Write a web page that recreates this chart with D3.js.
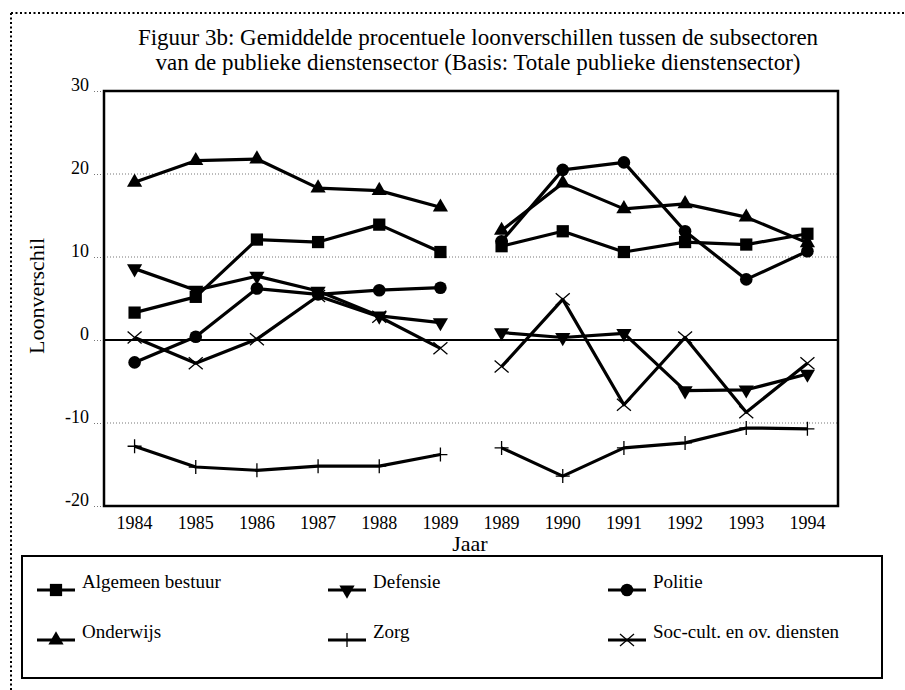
<!DOCTYPE html>
<html><head><meta charset="utf-8">
<script src="https://cdn.jsdelivr.net/npm/d3@7"></script>
<style>
body{margin:0;background:#fff;}
svg{display:block;font-family:"Liberation Serif","Times New Roman",serif;}
</style>
</head><body>
<svg id="c" width="905" height="690"></svg>
<script>
// ---- data ----
const years = ["1984","1985","1986","1987","1988","1989","1989","1990","1991","1992","1993","1994"];
const yTicks = [-20, -10, 0, 10, 20, 30];
const gridValues = [20, 10, -10];
const titleLines = [
  "Figuur 3b: Gemiddelde procentuele loonverschillen tussen de subsectoren",
  "van de publieke dienstensector (Basis: Totale publieke dienstensector)"
];
const algemeenBestuur = [3.3, 5.2, 12.1, 11.8, 13.9, 10.6, 11.3, 13.1, 10.6, 11.8, 11.5, 12.8];
const defensie        = [8.6, 6.0, 7.7, 5.9, 2.9, 2.1, 0.9, 0.3, 0.8, -6.1, -6.0, -4.1];
const politie         = [-2.7, 0.4, 6.2, 5.5, 6.0, 6.3, 11.9, 20.5, 21.4, 13.1, 7.3, 10.7];
const onderwijs       = [19.0, 21.6, 21.8, 18.3, 18.0, 16.0, 13.2, 18.9, 15.8, 16.4, 14.8, 11.7];
const zorg            = [-12.8, -15.3, -15.7, -15.2, -15.2, -13.8, -13.0, -16.4, -13.0, -12.4, -10.6, -10.7];
const socCult         = [0.3, -2.8, 0.1, 5.3, 2.8, -1.0, -3.2, 4.9, -7.8, 0.3, -8.7, -2.8];
const segments = [[0, 6], [6, 12]]; // two separate periods

const series = [
  {name: "Algemeen bestuur", values: algemeenBestuur, mark: "square"},
  {name: "Defensie", values: defensie, mark: "down"},
  {name: "Politie", values: politie, mark: "circle"},
  {name: "Onderwijs", values: onderwijs, mark: "up"},
  {name: "Zorg", values: zorg, mark: "plus"},
  {name: "Soc-cult. en ov. diensten", values: socCult, mark: "cross"}
];

// ---- layout ----
const svg = d3.select("#c");
const L = 104, R = 838, T = 91, B = 506;
const x = d3.scaleBand().domain(d3.range(years.length)).range([L, R]);
const cx = i => x(i) + x.bandwidth() / 2;
const y = d3.scaleLinear().domain([-20, 30]).range([B, T]);

// outer dotted frame
svg.append("line").attr("x1", 11).attr("x2", 905).attr("y1", 13).attr("y2", 13)
  .attr("stroke", "#000").attr("stroke-width", 2).attr("stroke-dasharray", "2,2.5");
svg.append("line").attr("x1", 11).attr("x2", 11).attr("y1", 13).attr("y2", 690)
  .attr("stroke", "#000").attr("stroke-width", 2).attr("stroke-dasharray", "2,2.5");

// title
svg.selectAll("text.title").data(titleLines).join("text").attr("class", "title")
  .attr("x", 478).attr("y", (d, i) => 45 + i * 25)
  .attr("text-anchor", "middle").attr("font-size", 23).text(d => d);

// gridlines
svg.selectAll("line.grid").data(gridValues).join("line").attr("class", "grid")
  .attr("x1", L).attr("x2", R).attr("y1", d => y(d)).attr("y2", d => y(d))
  .attr("stroke", "#777").attr("stroke-width", 1).attr("stroke-dasharray", "1,2");

// zero line
svg.append("line").attr("x1", L).attr("x2", R).attr("y1", y(0)).attr("y2", y(0))
  .attr("stroke", "#000").attr("stroke-width", 2);

// y axis
const yAxis = svg.append("g").attr("transform", `translate(${L},0)`)
  .call(d3.axisLeft(y).tickValues(yTicks).tickSize(12).tickPadding(3)
    .tickFormat(d => d < 0 ? "-" + Math.abs(d) : String(d)));
yAxis.select(".domain").remove();
yAxis.selectAll(".tick line").attr("stroke", "#777").attr("stroke-dasharray", "1,2");
yAxis.selectAll(".tick text").attr("font-size", 18).attr("font-family", "Liberation Serif")
  .attr("fill", "#000").attr("dy", "-0.05em");

// x axis
const xAxis = svg.append("g").attr("transform", `translate(0,${B})`)
  .call(d3.axisBottom(x).tickFormat(i => years[i]).tickSize(0).tickPadding(10));
xAxis.select(".domain").remove();
xAxis.selectAll(".tick text").attr("font-size", 18).attr("font-family", "Liberation Serif").attr("fill", "#000");

// plot frame
svg.append("rect").attr("x", L).attr("y", T).attr("width", R - L).attr("height", B - T)
  .attr("fill", "none").attr("stroke", "#000").attr("stroke-width", 2.5);

// axis titles
svg.append("text").attr("x", 470).attr("y", 551).attr("text-anchor", "middle")
  .attr("font-size", 22).text("Jaar");
svg.append("text").attr("transform", "translate(44,296) rotate(-90)")
  .attr("text-anchor", "middle").attr("font-size", 22).text("Loonverschil");

// markers
function drawMark(g, mark, px, py) {
  if (mark === "square") {
    g.append("path").attr("d", d3.symbol(d3.symbolSquare, 150)()).attr("transform", `translate(${px},${py})`).attr("fill", "#000");
  } else if (mark === "up") {
    g.append("path").attr("d", d3.symbol(d3.symbolTriangle, 100)()).attr("transform", `translate(${px},${py})`).attr("fill", "#000");
  } else if (mark === "down") {
    g.append("path").attr("d", d3.symbol(d3.symbolTriangle, 100)()).attr("transform", `translate(${px},${py}) rotate(180)`).attr("fill", "#000");
  } else if (mark === "circle") {
    g.append("circle").attr("cx", px).attr("cy", py).attr("r", 6.3).attr("fill", "#000");
  } else if (mark === "plus") {
    g.append("path").attr("d", `M${px - 7},${py}H${px + 7}M${px},${py - 7}V${py + 7}`)
      .attr("stroke", "#000").attr("stroke-width", 1.3).attr("fill", "none");
  } else if (mark === "cross") {
    g.append("path").attr("d", `M${px - 7},${py - 6}L${px + 7},${py + 6}M${px - 7},${py + 6}L${px + 7},${py - 6}`)
      .attr("stroke", "#000").attr("stroke-width", 1.3).attr("fill", "none");
  }
}

const line = d3.line().x(d => cx(d.i)).y(d => y(d.v));
series.forEach(s => {
  const g = svg.append("g");
  segments.forEach(([a, b]) => {
    const pts = d3.range(a, b).map(i => ({i, v: s.values[i]}));
    g.append("path").attr("d", line(pts)).attr("fill", "none")
      .attr("stroke", "#000").attr("stroke-width", 3.2).attr("stroke-linejoin", "round");
  });
  s.values.forEach((v, i) => drawMark(g, s.mark, cx(i), y(v)));
});

// legend
const LG = {x: 22, y: 556, w: 860, h: 122};
svg.append("rect").attr("x", LG.x).attr("y", LG.y).attr("width", LG.w).attr("height", LG.h)
  .attr("fill", "none").attr("stroke", "#000").attr("stroke-width", 2);
const colX = [37, 328, 608];
const rowY = [590, 640];
series.forEach((s, k) => {
  const col = k % 3, row = Math.floor(k / 3);
  const x0 = colX[col], yy = rowY[row];
  const g = svg.append("g");
  g.append("line").attr("x1", x0).attr("x2", x0 + 38).attr("y1", yy).attr("y2", yy)
    .attr("stroke", "#000").attr("stroke-width", 3);
  drawMark(g, s.mark, x0 + 19, yy);
  g.append("text").attr("x", x0 + 45).attr("y", yy).attr("dy", "-0.1em")
    .attr("font-size", 19).text(s.name);
});
</script>
</body></html>
